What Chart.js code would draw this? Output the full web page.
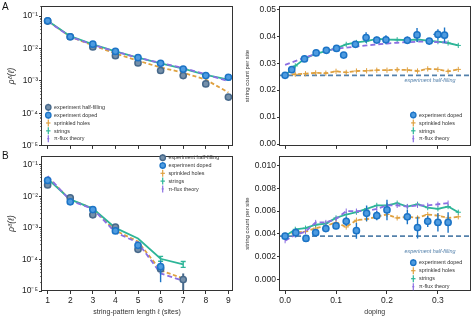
<!DOCTYPE html>
<html>
<head>
<meta charset="utf-8">
<script src="https://cdn.jsdelivr.net/npm/chart.js@4.4.0/dist/chart.umd.min.js"></script>
<style>
  html, body { margin: 0; padding: 0; background: #fff; }
  #wrap { position: relative; width: 475px; height: 320px; overflow: hidden; font-family: "Liberation Sans", Arial, sans-serif; }
  canvas { position: absolute; }
  .tag { position: absolute; font-size: 10px; line-height: 10px; color: #111; }
</style>
</head>
<body>
<div id="wrap">
  <canvas id="cA1" width="240" height="152" style="left:0;top:0;width:240px;height:152px"></canvas>
  <canvas id="cA2" width="235" height="152" style="left:240px;top:0;width:235px;height:152px"></canvas>
  <canvas id="cB1" width="240" height="170" style="left:0;top:150px;width:240px;height:170px"></canvas>
  <canvas id="cB2" width="235" height="170" style="left:240px;top:150px;width:235px;height:170px"></canvas>
  <div class="tag" style="left:2px;top:2px">A</div>
  <div class="tag" style="left:2px;top:151px">B</div>
</div>
<script>
// ---- data: panel A, left (probability vs string length) ----
const lengths = [1, 2, 3, 4, 5, 6, 7, 8, 9];
const aHalf      = [0.070, 0.023, 0.0112, 0.0060, 0.0036, 0.0021, 0.00146, 0.00081, 0.00032];
const aDoped     = [0.071, 0.023, 0.0136, 0.0081, 0.0052, 0.0035, 0.0023, 0.00146, 0.0013];
const aSprinkled = [0.071, 0.023, 0.0125, 0.0070, 0.0042, 0.0026, 0.0018, 0.0011, 0.00044];
const aStrings   = [0.072, 0.024, 0.0135, 0.0082, 0.0052, 0.0035, 0.0024, 0.00155, 0.0011];
const aPiFlux    = [0.069, 0.023, 0.0130, 0.0080, 0.0052, 0.0036, 0.0025, 0.0016, 0.00098];

// ---- data: panel B, left ----
const bLengths   = [1, 2, 3, 4, 5, 6, 7];
const bHalf      = [0.023, 0.0089, 0.0026, 0.00106, 0.00021, 0.00005, 0.000023];
const bHalfLo    = [null, null, null, null, null, null, 0.000005];
const bHalfHi    = [null, null, null, null, null, null, 0.000036];
const bDoped     = [0.032, 0.0067, 0.0038, 0.00080, 0.00028, 0.000059, null];
const bDopedLo   = [null, null, null, null, null, 0.000019, null];
const bDopedHi   = [null, null, null, null, null, 0.00009, null];
const bSprinkled = [0.040, 0.0078, 0.0042, 0.00082, 0.00037, 0.000045, 0.000025];
const bStrings   = [0.036, 0.0080, 0.0041, 0.00100, 0.00046, 0.000105, 0.000070];
const bStringsLo = [null, null, null, null, null, 0.000088, 0.000056];
const bStringsHi = [null, null, null, null, null, 0.000125, 0.000086];
const bPiFlux    = [0.044, 0.0074, 0.0040, 0.00072, 0.00034, 0.000036, 0.000021];

// ---- data: panel A, right (string count vs doping) ----
const dopingA    = [0, 0.013, 0.038, 0.061, 0.081, 0.101, 0.115, 0.138, 0.159, 0.18, 0.198, 0.24, 0.259, 0.283, 0.30, 0.313];
const dopedA     = [0.0255, 0.0276, 0.0316, 0.0338, 0.0348, 0.0355, 0.0330, 0.0370, 0.0395, 0.0386, 0.0387, 0.0385, 0.0405, 0.0382, 0.0407, 0.0404];
const dopedAErrY = [0.0003, 0.0007, 0.0007, 0.0005, 0.0005, 0.0005, 0.0007, 0.0009, 0.0020, 0.0009, 0.0017, 0.0014, 0.0026, 0.0012, 0.0019, 0.0029];
const dopedAErrX = [0.002, 0.004, 0.004, 0.004, 0.004, 0.004, 0.004, 0.004, 0.004, 0.004, 0.004, 0.005, 0.005, 0.005, 0.009, 0.005];
const dopingGrid = [0, 0.02, 0.04, 0.06, 0.08, 0.10, 0.12, 0.14, 0.16, 0.18, 0.20, 0.22, 0.24, 0.26, 0.28, 0.30, 0.32, 0.34];
const stringsA   = [0.0255, 0.0290, 0.0318, 0.0335, 0.0345, 0.0355, 0.0370, 0.0377, 0.0382, 0.0390, 0.0388, 0.0387, 0.0386, 0.0388, 0.0384, 0.0380, 0.0375, 0.0366];
const sprinkledA = [0.0257, 0.0259, 0.0261, 0.0264, 0.0263, 0.0270, 0.0266, 0.0271, 0.0272, 0.0274, 0.0274, 0.0276, 0.0275, 0.0271, 0.0279, 0.0277, 0.0270, 0.0277];
const piFluxA    = [0.0294, 0.0308, 0.0322, 0.0334, 0.0345, 0.0354, 0.0358, 0.0362, 0.0366, 0.0370, 0.0373, 0.0376, 0.0378, 0.0380, 0.0380, 0.0378, 0.0377];
const halfFillingA = 0.0255;

// ---- data: panel B, right ----
const dopingB    = [0, 0.021, 0.041, 0.06, 0.08, 0.10, 0.12, 0.14, 0.16, 0.18, 0.20, 0.24, 0.26, 0.28, 0.30, 0.32];
const dopedB     = [0.0038, 0.0041, 0.0036, 0.0041, 0.00446, 0.0047, 0.0051, 0.00428, 0.0058, 0.0056, 0.0061, 0.0055, 0.00455, 0.0051, 0.0050, 0.0050];
const dopedBErrY = [0.0001, 0.0004, 0.0003, 0.0003, 0.0003, 0.0003, 0.0004, 0.0007, 0.0007, 0.0004, 0.0009, 0.00065, 0.00095, 0.0005, 0.0008, 0.0009];
const dopedBErrX = [0.002, 0.004, 0.004, 0.004, 0.004, 0.004, 0.004, 0.004, 0.004, 0.004, 0.004, 0.005, 0.005, 0.005, 0.008, 0.005];
const stringsB   = [0.0038, 0.0044, 0.0045, 0.0048, 0.0049, 0.0054, 0.0057, 0.0059, 0.0062, 0.0065, 0.0065, 0.0067, 0.0064, 0.0066, 0.0063, 0.0062, 0.0064, 0.0059];
const sprinkledB = [0.0039, 0.0041, 0.0042, 0.0045, 0.0047, 0.0050, 0.0046, 0.0052, 0.0053, 0.0055, 0.0057, 0.0054, 0.0055, 0.0054, 0.0057, 0.0056, 0.0054, 0.0055];
const piFluxB    = [0.0034, 0.0039, 0.0042, 0.0050, 0.0050, 0.0053, 0.0060, 0.0060, 0.0060, 0.0062, 0.0065, 0.0065, 0.0064, 0.0065, 0.0065, 0.0066, 0.0067];
const halfFillingB = 0.0038;

// ---- ticks / axis limits ----
const logTicks     = [1e-5, 1e-4, 1e-3, 1e-2, 1e-1];
const lengthTicks  = [1, 2, 3, 4, 5, 6, 7, 8, 9];
const dopingTicks  = [0, 0.1, 0.2, 0.3];
const countTicksA  = [0, 0.01, 0.02, 0.03, 0.04, 0.05];
const countTicksB  = [0, 0.002, 0.004, 0.006, 0.008, 0.010];
const dopingMin = -0.01, dopingMax = 0.362;

// colours
const C_HALF = '#47698b', C_HALF_FACE = '#7590aa';
const C_DOPED = '#1c74c6', C_DOPED_FACE = '#4e9be0';
const C_SPRINK = '#dfa140', C_STR = '#2db598', C_PI = '#8b6fe2', C_HFLINE = '#5481ab';
const INK = '#333';

Chart.defaults.font.family = '"Liberation Sans", Arial, sans-serif';
Chart.defaults.color = '#222';

const pts = (xs, ys) => xs.map((x, i) => ({ x: x, y: ys[i] }));
const SUP = { '-': '⁻', '1': '¹', '2': '²', '3': '³', '4': '⁴', '5': '⁵' };
const logLabel = v => '10' + String(Math.round(Math.log10(v))).split('').map(c => SUP[c]).join('');

// frame around the plot area
const framePlugin = {
  id: 'frame',
  afterDraw(chart) {
    const a = chart.chartArea, ctx = chart.ctx;
    ctx.save();
    ctx.strokeStyle = INK; ctx.lineWidth = 1;
    ctx.strokeRect(Math.round(a.left) - 0.5, Math.round(a.top) + 0.5, Math.round(a.right - a.left) + 1, Math.round(a.bottom - a.top) - 1);
    ctx.restore();
  }
};

// minor ticks on log axes
const minorTicks = {
  id: 'minorTicks',
  afterDraw(chart) {
    const s = chart.scales.y;
    if (s.type !== 'logarithmic') return;
    const ctx = chart.ctx, x0 = chart.chartArea.left;
    ctx.save();
    ctx.strokeStyle = INK; ctx.lineWidth = 0.8;
    for (let e = -5; e <= -1; e++) {
      for (let k = 2; k <= 9; k++) {
        const v = k * Math.pow(10, e);
        if (v < s.min || v > s.max) continue;
        const py = Math.round(s.getPixelForValue(v)) + 0.5;
        ctx.beginPath(); ctx.moveTo(x0, py); ctx.lineTo(x0 - 1.8, py); ctx.stroke();
      }
    }
    ctx.restore();
  }
};

// error bars from dataset arrays
const errorBars = {
  id: 'errorBars',
  beforeDatasetDraw(chart, args) {
    const ds = chart.data.datasets[args.index];
    if (!ds.yErr && !ds.yLo && !ds.xErr) return;
    const xs = chart.scales.x, ys = chart.scales.y, ctx = chart.ctx, a = chart.chartArea;
    ctx.save();
    ctx.beginPath(); ctx.rect(a.left, a.top, a.right - a.left, a.bottom - a.top); ctx.clip();
    ctx.strokeStyle = ds.errColor || ds.borderColor;
    ctx.lineWidth = ds.errWidth || 1.4;
    ctx.setLineDash([]);
    ds.data.forEach((p, i) => {
      if (p.y == null) return;
      const px = xs.getPixelForValue(p.x);
      let lo = null, hi = null;
      if (ds.yErr && ds.yErr[i] != null) { lo = p.y - ds.yErr[i]; hi = p.y + ds.yErr[i]; }
      if (ds.yLo && ds.yLo[i] != null) { lo = ds.yLo[i]; hi = ds.yHi[i]; }
      if (lo != null) {
        const p1 = ys.getPixelForValue(lo), p2 = ys.getPixelForValue(hi);
        ctx.beginPath(); ctx.moveTo(px, p1); ctx.lineTo(px, p2); ctx.stroke();
        if (ds.cap) {
          ctx.beginPath();
          ctx.moveTo(px - ds.cap, p1); ctx.lineTo(px + ds.cap, p1);
          ctx.moveTo(px - ds.cap, p2); ctx.lineTo(px + ds.cap, p2);
          ctx.stroke();
        }
      }
      if (ds.xErr && ds.xErr[i] != null) {
        const py = ys.getPixelForValue(p.y);
        ctx.beginPath();
        ctx.moveTo(xs.getPixelForValue(p.x - ds.xErr[i]), py);
        ctx.lineTo(xs.getPixelForValue(p.x + ds.xErr[i]), py);
        ctx.stroke();
      }
    });
    ctx.restore();
  }
};

// legend drawn inside the plot area
const panelLegend = {
  id: 'panelLegend',
  afterDraw(chart, args, o) {
    if (!o || !o.items) return;
    const ctx = chart.ctx;
    ctx.save();
    ctx.font = '5.4px "Liberation Sans", Arial, sans-serif';
    ctx.textBaseline = 'middle';
    o.items.forEach((it, i) => {
      const y = o.y + i * o.dy, x = o.x;
      if (it.kind === 'half' || it.kind === 'doped') {
        const edge = it.kind === 'half' ? C_HALF : C_DOPED;
        const face = it.kind === 'half' ? C_HALF_FACE : C_DOPED_FACE;
        ctx.strokeStyle = edge; ctx.lineWidth = 1.3;
        ctx.beginPath(); ctx.moveTo(x, y - 3.5); ctx.lineTo(x, y + 3.5); ctx.stroke();
        ctx.fillStyle = face;
        ctx.beginPath(); ctx.arc(x, y, 2.7, 0, Math.PI * 2); ctx.fill(); ctx.stroke();
      } else {
        const col = it.kind === 'sprinkled' ? C_SPRINK : it.kind === 'strings' ? C_STR : C_PI;
        ctx.strokeStyle = col; ctx.lineWidth = 1.2;
        ctx.beginPath(); ctx.moveTo(x, y - 3.5); ctx.lineTo(x, y + 3.5); ctx.stroke();
        const w = it.kind === 'pi' ? 1 : 2.2;
        ctx.beginPath(); ctx.moveTo(x - w, y); ctx.lineTo(x + w, y); ctx.stroke();
      }
      ctx.fillStyle = '#333';
      ctx.fillText(it.label, o.x + o.gap, y + 0.3);
    });
    ctx.restore();
  }
};

// italic note under the half-filling reference line
const hfNote = {
  id: 'hfNote',
  afterDraw(chart, args, o) {
    if (!o || o.value == null) return;
    const ctx = chart.ctx, ys = chart.scales.y;
    ctx.save();
    ctx.font = 'italic 5.4px "Liberation Sans", Arial, sans-serif';
    ctx.fillStyle = C_HFLINE; ctx.textAlign = 'right'; ctx.textBaseline = 'middle';
    ctx.fillText('experiment half-filling', chart.chartArea.right - o.inset, ys.getPixelForValue(o.value) + o.dy);
    ctx.restore();
  }
};

Chart.register(framePlugin, minorTicks, errorBars, panelLegend, hfNote);

const tickGrid = { display: true, drawOnChartArea: false, drawTicks: true, tickLength: 3, tickColor: INK, tickWidth: 1 };

function lengthPanel(id, sets, yMax, showX, pad, xHeight, legend) {
  return new Chart(document.getElementById(id), {
    type: 'line',
    data: { datasets: sets },
    options: {
      responsive: false, animation: false, events: [],
      layout: { padding: pad },
      plugins: { legend: { display: false }, tooltip: { enabled: false }, panelLegend: legend },
      scales: {
        x: {
          type: 'linear', min: 0.75, max: 9.16,
          grid: tickGrid, border: { display: false },
          afterBuildTicks: s => { s.ticks = lengthTicks.map(v => ({ value: v })); },
          afterFit: s => { s.height = xHeight; },
          ticks: { display: showX, autoSkip: false, maxRotation: 0, padding: 2, font: { size: 8.5 }, color: '#222', callback: v => String(v) },
          title: { display: showX, text: 'string-pattern length ℓ (sites)', font: { size: 7 }, color: '#333', padding: { top: 0, bottom: 4 } }
        },
        y: {
          type: 'logarithmic', min: 1e-5, max: yMax,
          grid: tickGrid, border: { display: false },
          afterBuildTicks: s => { s.ticks = logTicks.map(v => ({ value: v })); },
          afterFit: s => { s.width = 42; },
          ticks: { autoSkip: false, padding: 1, font: { size: 8.5 }, color: '#222', callback: v => logLabel(v) },
          title: { display: true, text: 'ρᵟ(ℓ)', font: { size: 8.5, style: 'italic' }, color: '#333', padding: { top: 7, bottom: 0 } }
        }
      }
    }
  });
}

function dopingPanel(id, sets, yMin, yMax, yTicks, digits, showX, pad, xHeight, legend, note) {
  return new Chart(document.getElementById(id), {
    type: 'line',
    data: { datasets: sets },
    options: {
      responsive: false, animation: false, events: [],
      layout: { padding: pad },
      plugins: { legend: { display: false }, tooltip: { enabled: false }, panelLegend: legend, hfNote: note },
      scales: {
        x: {
          type: 'linear', min: dopingMin, max: dopingMax,
          grid: tickGrid, border: { display: false },
          afterBuildTicks: s => { s.ticks = dopingTicks.map(v => ({ value: v })); },
          afterFit: s => { s.height = xHeight; },
          ticks: { display: showX, autoSkip: false, maxRotation: 0, padding: 2, font: { size: 8.5 }, color: '#222', callback: v => v.toFixed(1) },
          title: { display: showX, text: 'doping', font: { size: 7 }, color: '#333', padding: { top: 0, bottom: 4 } }
        },
        y: {
          type: 'linear', min: yMin, max: yMax,
          grid: tickGrid, border: { display: false },
          afterBuildTicks: s => { s.ticks = yTicks.map(v => ({ value: v })); },
          afterFit: s => { s.width = 40; },
          ticks: { autoSkip: false, padding: 1, font: { size: 8.5 }, color: '#222', callback: v => v.toFixed(digits) },
          title: { display: true, text: 'string count per site', font: { size: 6 }, color: '#333', padding: { top: 4, bottom: 0 } }
        }
      }
    }
  });
}

function expSet(xs, ys, edge, face, extra) {
  return Object.assign({
    data: pts(xs, ys), showLine: false, borderColor: edge, backgroundColor: face,
    pointRadius: 3.1, pointBorderWidth: 1.5, pointBackgroundColor: face, pointBorderColor: edge
  }, extra || {});
}
function lineSet(xs, ys, col, dash, extra) {
  return Object.assign({
    data: pts(xs, ys), borderColor: col, backgroundColor: col, borderWidth: 1.8,
    borderDash: dash, pointRadius: 0, tension: 0, spanGaps: false
  }, extra || {});
}

const leftItems = [
  { kind: 'half', label: 'experiment half-filling' },
  { kind: 'doped', label: 'experiment doped' },
  { kind: 'sprinkled', label: 'sprinkled holes' },
  { kind: 'strings', label: 'strings' },
  { kind: 'pi', label: 'π-flux theory' }
];
const rightItems = leftItems.slice(1);

// Panel A left
lengthPanel('cA1', [
  expSet(lengths, aDoped, C_DOPED, C_DOPED_FACE),
  expSet(lengths, aHalf, C_HALF, C_HALF_FACE),
  lineSet(lengths, aPiFlux, C_PI, [5, 3]),
  lineSet(lengths, aStrings, C_STR, []),
  lineSet(lengths, aSprinkled, C_SPRINK, [4, 2.5])
], 0.202, false, { left: 0, top: 6, right: 8, bottom: 0 }, 5,
  { x: 48.3, y: 107.3, dy: 7.85, gap: 5.7, items: leftItems });

// Panel B left
lengthPanel('cB1', [
  expSet(bLengths, bDoped, C_DOPED, C_DOPED_FACE, { yLo: bDopedLo, yHi: bDopedHi }),
  expSet(bLengths, bHalf, C_HALF, C_HALF_FACE, { yLo: bHalfLo, yHi: bHalfHi, errWidth: 2 }),
  lineSet(bLengths, bPiFlux, C_PI, [5, 3]),
  lineSet(bLengths, bStrings, C_STR, [], { yLo: bStringsLo, yHi: bStringsHi, cap: 2.5 }),
  lineSet(bLengths, bSprinkled, C_SPRINK, [4, 2.5])
], 0.189, true, { left: 0, top: 2, right: 8, bottom: 0 }, 29,
  { x: 162.7, y: 7.7, dy: 7.8, gap: 5.7, items: leftItems });

// Panel A right
dopingPanel('cA2', [
  expSet(dopingA, dopedA, C_DOPED, C_DOPED_FACE, { yErr: dopedAErrY, xErr: dopedAErrX }),
  lineSet(dopingGrid.slice(0, piFluxA.length), piFluxA, C_PI, [5, 3]),
  lineSet(dopingGrid, stringsA, C_STR, [], { pointRadius: 2.6, pointStyle: 'cross', pointBorderWidth: 1 }),
  lineSet(dopingGrid, sprinkledA, C_SPRINK, [4, 2.5], { pointRadius: 2.6, pointStyle: 'cross', pointBorderWidth: 1 }),
  lineSet([dopingMin, dopingMax], [halfFillingA, halfFillingA], C_HFLINE, [5, 3], { borderWidth: 1.6 })
], -0.0007, 0.0512, countTicksA, 2, false, { left: 0, top: 6, right: 4, bottom: 0 }, 5,
  { x: 173.3, y: 115, dy: 7.9, gap: 5.7, items: rightItems },
  { value: halfFillingA, dy: 5, inset: 14 });

// Panel B right
dopingPanel('cB2', [
  expSet(dopingB, dopedB, C_DOPED, C_DOPED_FACE, { yErr: dopedBErrY, xErr: dopedBErrX }),
  lineSet(dopingGrid.slice(0, piFluxB.length), piFluxB, C_PI, [5, 3], { pointRadius: 2.6, pointStyle: 'line', rotation: 90, pointBorderWidth: 1 }),
  lineSet(dopingGrid, stringsB, C_STR, [], { pointRadius: 2.6, pointStyle: 'cross', pointBorderWidth: 1 }),
  lineSet(dopingGrid, sprinkledB, C_SPRINK, [4, 2.5], { pointRadius: 2.6, pointStyle: 'cross', pointBorderWidth: 1 }),
  lineSet([dopingMin, dopingMax], [halfFillingB, halfFillingB], C_HFLINE, [5, 3], { borderWidth: 1.6 })
], -0.00102, 0.01083, countTicksB, 3, true, { left: 0, top: 2, right: 4, bottom: 0 }, 29,
  { x: 173.3, y: 112.7, dy: 8, gap: 5.7, items: rightItems },
  { value: halfFillingB, dy: 15, inset: 14 });
</script>
</body>
</html>
